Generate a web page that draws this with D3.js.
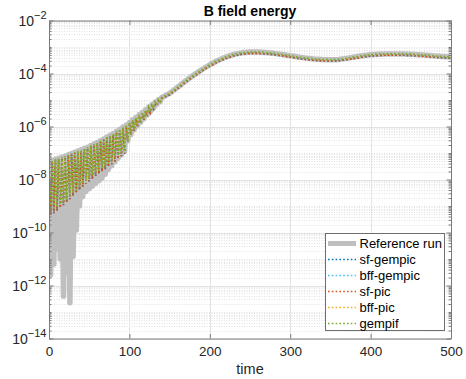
<!DOCTYPE html>
<html><head><meta charset="utf-8">
<script src="https://cdn.jsdelivr.net/npm/d3@7"></script>
<style>body{margin:0;background:#fff} svg{display:block}</style>
</head><body>
<svg id="c" width="466" height="379"></svg>
<script>
// time samples
const time = [0,2,4,6,8,10,12,14,16,18,20,22,24,26,28,30,32,34,36,38,40,42,44,46,48,50,52,54,56,58,60,62,64,66,68,70,72,74,76,78,80,82,84,86,88,90,92,94,96,98,100,102,104,106,108,110,112,114,116,118,120,122,124,126,128,130,132,134,136,138,140,150,160,170,180,190,200,210,220,230,240,250,260,270,280,290,300,310,320,330,340,350,360,370,380,390,400,410,420,430,440,450,460,470,480,490,500];

// log10 of B field energy
const referenceRun = [-7.30,-11.60,-7.28,-11.20,-7.24,-10.60,-7.20,-11.00,-7.16,-12.40,-7.12,-11.50,-7.07,-12.65,-7.02,-10.90,-6.97,-9.90,-6.92,-9.00,-6.88,-8.65,-6.83,-8.45,-6.78,-8.35,-6.72,-8.25,-6.66,-8.15,-6.60,-8.05,-6.54,-7.95,-6.47,-7.80,-6.40,-7.62,-6.33,-7.48,-6.26,-7.33,-6.18,-7.20,-6.10,-7.08,-6.02,-6.95,-5.94,-6.55,-5.85,-6.30,-5.75,-6.12,-5.66,-5.98,-5.56,-5.84,-5.47,-5.71,-5.37,-5.57,-5.27,-5.44,-5.18,-5.31,-5.08,-5.18,-4.99,-5.07,-4.91,
 -4.75,-4.52,-4.28,-4.06,-3.86,-3.67,-3.51,-3.38,-3.28,-3.22,-3.19,-3.19,-3.21,-3.24,-3.28,-3.33,-3.38,-3.42,-3.45,-3.47,-3.48,-3.47,-3.43,-3.38,-3.33,-3.29,-3.27,-3.26,-3.26,-3.26,-3.27,-3.29,-3.31,-3.34,-3.36,-3.38];
const sfGempic = [-7.34,-9.32,-7.32,-9.27,-7.28,-9.17,-7.24,-9.07,-7.20,-8.97,-7.16,-8.87,-7.11,-8.74,-7.06,-8.62,-7.01,-8.52,-6.96,-8.40,-6.92,-8.27,-6.87,-8.17,-6.82,-8.07,-6.76,-7.97,-6.70,-7.87,-6.64,-7.79,-6.58,-7.70,-6.51,-7.62,-6.44,-7.52,-6.37,-7.42,-6.30,-7.32,-6.22,-7.22,-6.14,-7.12,-6.06,-7.02,-5.98,-6.59,-5.89,-6.34,-5.79,-6.16,-5.70,-6.02,-5.60,-5.88,-5.51,-5.75,-5.41,-5.61,-5.31,-5.48,-5.22,-5.35,-5.12,-5.22,-5.03,-5.11,-4.95,
 -4.80,-4.57,-4.33,-4.11,-3.91,-3.72,-3.56,-3.43,-3.33,-3.27,-3.24,-3.24,-3.26,-3.29,-3.33,-3.38,-3.43,-3.47,-3.50,-3.52,-3.53,-3.52,-3.48,-3.43,-3.38,-3.34,-3.32,-3.31,-3.31,-3.31,-3.32,-3.34,-3.36,-3.39,-3.41,-3.43];
const bffGempic = [-7.30,-9.20,-7.28,-9.15,-7.24,-9.05,-7.20,-8.95,-7.16,-8.85,-7.12,-8.75,-7.07,-8.62,-7.02,-8.50,-6.97,-8.40,-6.92,-8.28,-6.88,-8.15,-6.83,-8.05,-6.78,-7.95,-6.72,-7.85,-6.66,-7.75,-6.60,-7.67,-6.54,-7.58,-6.47,-7.50,-6.40,-7.40,-6.33,-7.30,-6.26,-7.20,-6.18,-7.10,-6.10,-7.00,-6.02,-6.90,-5.94,-6.55,-5.85,-6.30,-5.75,-6.12,-5.66,-5.98,-5.56,-5.84,-5.47,-5.71,-5.37,-5.57,-5.27,-5.44,-5.18,-5.31,-5.08,-5.18,-4.99,-5.07,-4.91,
 -4.75,-4.52,-4.28,-4.06,-3.86,-3.67,-3.51,-3.38,-3.28,-3.22,-3.19,-3.19,-3.21,-3.24,-3.28,-3.33,-3.38,-3.42,-3.45,-3.47,-3.48,-3.47,-3.43,-3.38,-3.33,-3.29,-3.27,-3.26,-3.26,-3.26,-3.27,-3.29,-3.31,-3.34,-3.36,-3.38];
const sfPic = [-7.34,-9.32,-7.32,-9.27,-7.28,-9.17,-7.24,-9.07,-7.20,-8.97,-7.16,-8.87,-7.11,-8.74,-7.06,-8.62,-7.01,-8.52,-6.96,-8.40,-6.92,-8.27,-6.87,-8.17,-6.82,-8.07,-6.76,-7.97,-6.70,-7.87,-6.64,-7.79,-6.58,-7.70,-6.51,-7.62,-6.44,-7.52,-6.37,-7.42,-6.30,-7.32,-6.22,-7.22,-6.14,-7.12,-6.06,-7.02,-5.98,-6.59,-5.89,-6.34,-5.79,-6.16,-5.70,-6.02,-5.60,-5.88,-5.51,-5.75,-5.41,-5.61,-5.31,-5.48,-5.22,-5.35,-5.12,-5.22,-5.03,-5.11,-4.95,
 -4.80,-4.57,-4.33,-4.11,-3.91,-3.72,-3.56,-3.43,-3.33,-3.27,-3.24,-3.24,-3.26,-3.29,-3.33,-3.38,-3.43,-3.47,-3.50,-3.52,-3.53,-3.52,-3.48,-3.43,-3.38,-3.34,-3.32,-3.31,-3.31,-3.31,-3.32,-3.34,-3.36,-3.39,-3.41,-3.43];
const bffPic = [-7.30,-9.20,-7.28,-9.15,-7.24,-9.05,-7.20,-8.95,-7.16,-8.85,-7.12,-8.75,-7.07,-8.62,-7.02,-8.50,-6.97,-8.40,-6.92,-8.28,-6.88,-8.15,-6.83,-8.05,-6.78,-7.95,-6.72,-7.85,-6.66,-7.75,-6.60,-7.67,-6.54,-7.58,-6.47,-7.50,-6.40,-7.40,-6.33,-7.30,-6.26,-7.20,-6.18,-7.10,-6.10,-7.00,-6.02,-6.90,-5.94,-6.55,-5.85,-6.30,-5.75,-6.12,-5.66,-5.98,-5.56,-5.84,-5.47,-5.71,-5.37,-5.57,-5.27,-5.44,-5.18,-5.31,-5.08,-5.18,-4.99,-5.07,-4.91,
 -4.75,-4.52,-4.28,-4.06,-3.86,-3.67,-3.51,-3.38,-3.28,-3.22,-3.19,-3.19,-3.21,-3.24,-3.28,-3.33,-3.38,-3.42,-3.45,-3.47,-3.48,-3.47,-3.43,-3.38,-3.33,-3.29,-3.27,-3.26,-3.26,-3.26,-3.27,-3.29,-3.31,-3.34,-3.36,-3.38];
const gempif = [-7.30,-9.20,-7.28,-9.15,-7.24,-9.05,-7.20,-8.95,-7.16,-8.85,-7.12,-8.75,-7.07,-8.62,-7.02,-8.50,-6.97,-8.40,-6.92,-8.28,-6.88,-8.15,-6.83,-8.05,-6.78,-7.95,-6.72,-7.85,-6.66,-7.75,-6.60,-7.67,-6.54,-7.58,-6.47,-7.50,-6.40,-7.40,-6.33,-7.30,-6.26,-7.20,-6.18,-7.10,-6.10,-7.00,-6.02,-6.90,-5.94,-6.55,-5.85,-6.30,-5.75,-6.12,-5.66,-5.98,-5.56,-5.84,-5.47,-5.71,-5.37,-5.57,-5.27,-5.44,-5.18,-5.31,-5.08,-5.18,-4.99,-5.07,-4.91,
 -4.75,-4.52,-4.28,-4.06,-3.86,-3.67,-3.51,-3.38,-3.28,-3.22,-3.19,-3.19,-3.21,-3.24,-3.28,-3.33,-3.38,-3.42,-3.45,-3.47,-3.48,-3.47,-3.43,-3.38,-3.33,-3.29,-3.27,-3.26,-3.26,-3.26,-3.27,-3.29,-3.31,-3.34,-3.36,-3.38];

const seriesNames = ["Reference run","sf-gempic","bff-gempic","sf-pic","bff-pic","gempif"];
const seriesData = [referenceRun, sfGempic, bffGempic, sfPic, bffPic, gempif];
const seriesColors = ["#BFBFBF","#0072BD","#4DBEEE","#D95319","#EDB120","#77AC30"];
const xTicks = [0,100,200,300,400,500];
const yTickExps = [-14,-12,-10,-8,-6,-4,-2];
const titleText = "B field energy";
const xLabel = "time";

const FONT = "'Liberation Sans', Arial, Helvetica, sans-serif";
const svg = d3.select("#c");
const L = 49, R = 451, T = 20.5, B = 338.5;
const x = d3.scaleLinear().domain([0, 500]).range([L, R]);
const y = d3.scaleLog().domain([1e-14, 1e-2]).range([B, T]);

svg.append("rect").attr("width",466).attr("height",379).attr("fill","#fff");

// minor grid values
const minorVals = [];
for (let k = -14; k < -2; k++) {
  for (let m = 1; m <= 9; m++) {
    if (m === 1 && k % 2 === 0) continue;
    minorVals.push(m * Math.pow(10, k));
  }
}
const majorY = yTickExps.map(e => Math.pow(10, e));

const grid = svg.append("g");
grid.selectAll("line.ymin").data(minorVals).join("line")
  .attr("x1", L).attr("x2", R)
  .attr("y1", d => Math.round(y(d)) + 0.5).attr("y2", d => Math.round(y(d)) + 0.5)
  .attr("stroke", "#dcdcdc").attr("stroke-width", 0.8).attr("stroke-dasharray", "1,1.5");
grid.selectAll("line.ymaj").data(majorY).join("line")
  .attr("x1", L).attr("x2", R)
  .attr("y1", d => Math.round(y(d)) + 0.5).attr("y2", d => Math.round(y(d)) + 0.5)
  .attr("stroke", "#e3e3e3").attr("stroke-width", 1);
grid.selectAll("line.xmaj").data(xTicks).join("line")
  .attr("y1", T).attr("y2", B)
  .attr("x1", d => Math.round(x(d)) + 0.5).attr("x2", d => Math.round(x(d)) + 0.5)
  .attr("stroke", "#e3e3e3").attr("stroke-width", 1);

// data
svg.append("clipPath").attr("id","clip").append("rect")
  .attr("x", L).attr("y", T).attr("width", R - L).attr("height", B - T);
const plot = svg.append("g").attr("clip-path","url(#clip)");
const line = d3.line().x((d, i) => x(time[i])).y(d => y(Math.pow(10, d)));
seriesData.forEach((s, i) => {
  const p = plot.append("path").attr("d", line(s)).attr("fill","none")
    .attr("stroke", seriesColors[i]);
  if (i === 0) {
    p.attr("stroke-width", 5.5).attr("stroke-linejoin","round").attr("stroke-linecap","round");
  } else {
    p.attr("stroke-width", 1.6).attr("stroke-dasharray","1.6,2.2");
  }
});

// axes
const AX = "#7a7a7a";
function styleAxis(g) {
  g.select(".domain").attr("stroke", AX);
  g.selectAll(".tick line").attr("stroke", AX);
  g.selectAll(".tick text").attr("fill", "#262626").attr("font-family", FONT).attr("font-size", 13.5);
  g.attr("font-family", FONT);
}
svg.append("g").attr("transform", `translate(0,${B})`)
  .call(d3.axisBottom(x).tickValues(xTicks).tickSizeInner(-4.5).tickSizeOuter(0).tickPadding(8))
  .call(styleAxis);
svg.append("g").attr("transform", `translate(0,${T})`)
  .call(d3.axisTop(x).tickValues(xTicks).tickSizeInner(-4.5).tickSizeOuter(0).tickFormat(""))
  .call(styleAxis);
svg.append("g").attr("transform", `translate(${L},0)`)
  .call(d3.axisLeft(y).tickValues(majorY).tickSizeInner(-4.5).tickSizeOuter(0).tickFormat(""))
  .call(styleAxis);
svg.append("g").attr("transform", `translate(${L},0)`)
  .call(d3.axisLeft(y).tickValues(minorVals).tickSizeInner(-2.5).tickSizeOuter(0).tickFormat(""))
  .call(styleAxis).select(".domain").remove();
svg.append("g").attr("transform", `translate(${R},0)`)
  .call(d3.axisRight(y).tickValues(majorY).tickSizeInner(-4.5).tickSizeOuter(0).tickFormat(""))
  .call(styleAxis);
svg.append("g").attr("transform", `translate(${R},0)`)
  .call(d3.axisRight(y).tickValues(minorVals).tickSizeInner(-2.5).tickSizeOuter(0).tickFormat(""))
  .call(styleAxis).select(".domain").remove();

// y tick labels with superscripts
yTickExps.forEach(e => {
  const t = svg.append("text").attr("x", 46.5).attr("y", y(Math.pow(10, e)) + 5.3)
    .attr("text-anchor", "end").attr("font-family", FONT).attr("fill", "#262626");
  t.append("tspan").attr("font-size", 14).text("10");
  t.append("tspan").attr("font-size", 11).attr("dy", -7).text("\u2212" + Math.abs(e));
});

// title and label
svg.append("text").attr("x", (L + R) / 2).attr("y", 16).attr("text-anchor","middle")
  .attr("font-family", FONT).attr("font-weight","bold").attr("font-size", 14).attr("fill","#000")
  .text(titleText);
svg.append("text").attr("x", (L + R) / 2).attr("y", 373.5).attr("text-anchor","middle")
  .attr("font-family", FONT).attr("font-size", 14.5).attr("fill","#262626").text(xLabel);

// legend
const lg = svg.append("g");
lg.append("rect").attr("x", 325.5).attr("y", 233.5).attr("width", 119).attr("height", 97)
  .attr("fill", "#fff").attr("stroke", "#6e6e6e").attr("stroke-width", 1);
seriesNames.forEach((n, i) => {
  const cy = 243.5 + i * 16;
  const ln = lg.append("line").attr("x1", 328).attr("x2", 356).attr("y1", cy).attr("y2", cy)
    .attr("stroke", seriesColors[i]);
  if (i === 0) ln.attr("stroke-width", 5);
  else ln.attr("stroke-width", 1.6).attr("stroke-dasharray", "1.6,2.2");
  lg.append("text").attr("x", 359.5).attr("y", cy + 4.7).attr("font-family", FONT)
    .attr("font-size", 13).attr("fill", "#000").text(n);
});
</script>
</body></html>
